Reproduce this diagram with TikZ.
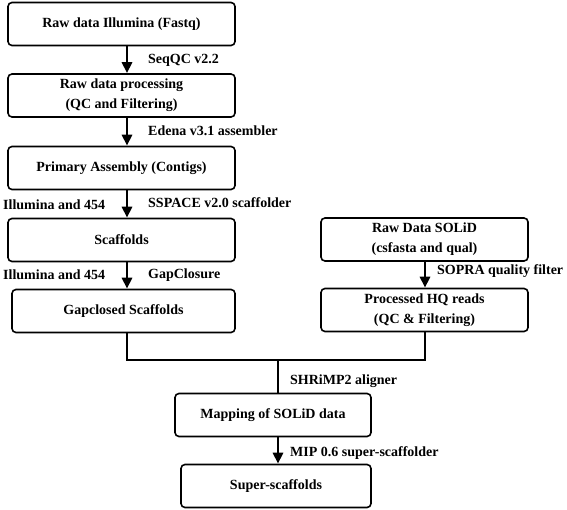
\documentclass[tikz,border=0pt]{standalone}
\usepackage{fontspec}
\setmainfont{Liberation Serif}
\usetikzlibrary{positioning, arrows.meta}
\tikzstyle{stage} = [rectangle, rounded corners=4pt, line width=1.6pt, draw=black, fill=white, minimum width=227pt, minimum height=43pt, text centered, align=center, font=\bfseries\fontsize{14}{20}\selectfont]
\tikzstyle{tool} = [anchor=west, inner sep=0pt, font=\bfseries\fontsize{14}{16}\selectfont]
\tikzstyle{arrow} = [line width=2.8pt, -{Triangle[length=11pt,width=10pt]}]
\tikzstyle{link} = [line width=2.8pt]

\begin{document}
\begin{tikzpicture}[x=1pt, y=-1pt]
\useasboundingbox (0,0) rectangle (567,510);

% left column
\node (raw) [stage] at (121.5,24) {Raw data Illumina (Fastq)};
\node (proc) [stage] at (121.5,95.5) {Raw data processing\\(QC and Filtering)};
\node (contigs) [stage] at (121.5,168) {Primary Assembly (Contigs)};
\node (scaf) [stage] at (121.5,240) {Scaffolds};
\node (gapc) [stage, minimum width=223pt] at (123.5,311) {Gapclosed Scaffolds};

% right column
\node (solid) [stage, minimum width=207pt] at (424.5,239.5) {Raw Data SOLiD\\(csfasta and qual)};
\node (hq) [stage, minimum width=207pt] at (424.5,310) {Processed HQ reads\\(QC \& Filtering)};

% bottom
\node (mapping) [stage, minimum width=196pt] at (273,415) {Mapping of SOLiD data};
\node (super) [stage, minimum width=190pt] at (276,486) {Super-scaffolds};

\coordinate (lx) at (127,0);
\coordinate (rx) at (425,0);
\coordinate (mx) at (278,0);
\coordinate (join) at (278,360);

\draw [arrow] (raw.south -| lx) -- (proc.north -| lx);
\draw [arrow] (proc.south -| lx) -- (contigs.north -| lx);
\draw [arrow] (contigs.south -| lx) -- (scaf.north -| lx);
\draw [arrow] (scaf.south -| lx) -- (gapc.north -| lx);
\draw [arrow] (solid.south -| rx) -- (hq.north -| rx);

\draw [link, line join=miter] (gapc.south -| lx) |- (join) -| (hq.south -| rx);
\draw [link] (join) -- (mapping.north -| mx);
\draw [arrow] (mapping.south -| mx) -- (super.north -| mx);

% tool labels
\node (seqqc) [tool] at (148,60) {SeqQC v2.2};
\node (edena) [tool] at (148,131) {Edena v3.1 assembler};
\node (sspace) [tool] at (148,203) {SSPACE v2.0 scaffolder};
\node (illum1) [tool] at (3,205) {Illumina and 454};
\node (illum2) [tool] at (3,275) {Illumina and 454};
\node (gapcl) [tool] at (148,275) {GapClosure};
\node (sopra) [tool] at (437,271) {SOPRA quality filter};
\node (shrimp) [tool] at (290,381) {SHRiMP2 aligner};
\node (mip) [tool] at (290,453) {MIP 0.6 super-scaffolder};

\end{tikzpicture}
\end{document}
